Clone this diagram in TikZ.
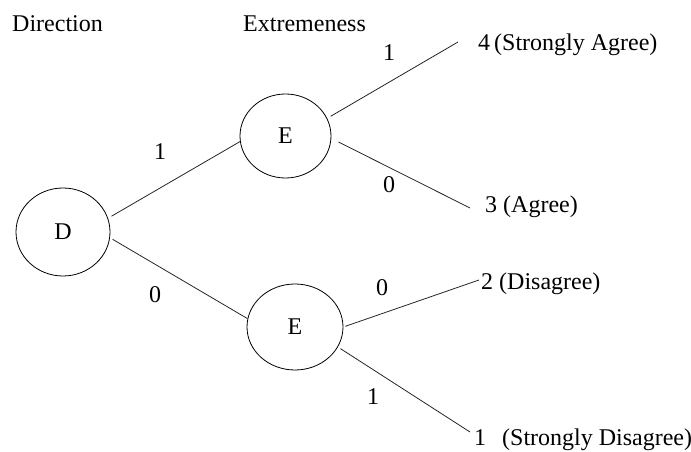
\documentclass[tikz,border=0pt]{standalone}
\usepackage{fontspec}
\setmainfont{Liberation Serif}
\usetikzlibrary{shapes.geometric}
\begin{document}
\begin{tikzpicture}[x=1pt,y=1pt,
  every node/.style={font=\fontsize{24}{28}\selectfont},
  choice/.style={draw=black, line width=0.8pt, ellipse, inner sep=0pt},
  branch/.style={draw=black!85, line width=0.8pt},
  outcome/.style={anchor=west, inner sep=0pt},
  heading/.style={anchor=base west, inner sep=0pt},
  digit/.style={inner sep=0pt}]
\useasboundingbox (0,0) rectangle (691,452);

% column headings
\node[heading] (hdir) at (12,420) {Direction};
\node[heading] (hext) at (243,420) {Extremeness};

% decision nodes
\node[choice, minimum width=94pt, minimum height=88pt] (D) at (63,220) {D};
\node[choice, minimum width=91pt, minimum height=84pt] (Et) at (285.5,316) {E};
\node[choice, minimum width=96pt, minimum height=86pt] (Eb) at (295,125) {E};

% response categories
\node[outcome] (r4) at (478,407) {4\,(Strongly Agree)};
\node[outcome] (r3) at (485,245) {3 (Agree)};
\node[outcome] (r2) at (481,168) {2 (Disagree)};
\node[outcome] (r1) at (474,12) {1\hspace{16pt}(Strongly Disagree)};

% free ends of the outer branches
\coordinate (c4) at (458,410);
\coordinate (c3) at (470,244);
\coordinate (c2) at (479,172);
\coordinate (c1) at (470,20);

% branches
\draw[branch, shorten <=4pt] (D.17) -- (Et.187);
\draw[branch, shorten <=3pt] (D.353) -- (Eb.170);
\draw[branch, shorten <=4pt] (Et.23) -- (c4);
\draw[branch, shorten <=8pt] (Et.-3) -- (c3);
\draw[branch, shorten <=2pt] (Eb.0) -- (c2);
\draw[branch, shorten <=3pt] (Eb.-25) -- (c1);

% branch values
\node[digit] (v1) at (160,300) {1};
\node[digit] (v2) at (155,157) {0};
\node[digit] (v3) at (389,399) {1};
\node[digit] (v4) at (389,267) {0};
\node[digit] (v5) at (382,164) {0};
\node[digit] (v6) at (373,55) {1};
\end{tikzpicture}
\end{document}
